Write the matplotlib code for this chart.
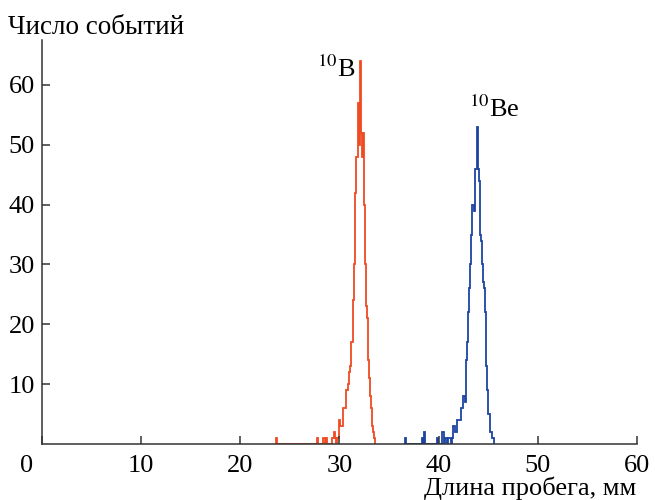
import numpy as np
import matplotlib
matplotlib.use('Agg')
import matplotlib.pyplot as plt
from matplotlib.transforms import ScaledTranslation

plt.rcParams['font.family'] = ['Liberation Serif', 'DejaVu Serif']
plt.rcParams['mathtext.fontset'] = 'stix'

# histogram data, 0.1 mm bins
bin_w = 0.1
b10_start = 23.5
b10_counts = [
    0, 1, 0, 0, 0, 0, 0, 0, 0, 0,
    0, 0, 0, 0, 0, 0, 0, 0, 0, 0,
    0, 0, 0, 0, 0, 0, 0, 0, 0, 0,
    0, 0, 0, 0, 0, 0, 0, 0, 0, 0,
    0, 0, 1, 0, 0, 0, 0, 0, 1, 1,
    0, 1, 0, 0, 0, 0, 0, 1, 1, 1,
    2, 1, 0, 1, 1, 4, 3, 3, 3, 6,
    6, 6, 9, 9, 10, 12, 13, 17, 17, 24,
    30, 42, 48, 48, 57, 50, 64, 52, 48, 52,
    40, 30, 23, 21, 14, 11, 8, 6, 3, 2,
    1,
]
be10_start = 36.5
be10_counts = [
    0, 1, 0, 0, 0, 0, 0, 0, 0, 0,
    0, 0, 0, 0, 0, 0, 0, 0, 1, 0,
    2, 0, 0, 0, 0, 0, 0, 0, 0, 0,
    0, 0, 0, 1, 0, 0, 0, 0, 2, 2,
    0, 1, 1, 0, 1, 1, 1, 0, 1, 3,
    3, 3, 2, 2, 4, 4, 4, 4, 6, 6,
    8, 8, 7, 14, 17, 22, 26, 30, 35, 40,
    40, 39, 46, 46, 53, 46, 44, 35, 34, 30,
    27, 26, 22, 13, 9, 5, 5, 2, 2, 1,
    1,
]
xticks = [0, 10, 20, 30, 40, 50, 60]
yticks = [10, 20, 30, 40, 50, 60]

red = '#f04b23'
blue = '#1d44a0'
fs = 19


def edges(start, n):
    return np.round(start + bin_w * np.arange(n + 1), 2)


fig = plt.figure(figsize=(6.55, 5.0), dpi=100)
ax = fig.add_axes([0.064, 0.112, 0.9085, 0.808])

ax.stairs(b10_counts, edges(b10_start, len(b10_counts)), color=red, lw=1.3)
ax.stairs(be10_counts, edges(be10_start, len(be10_counts)), color=blue, lw=1.3)

ax.set_xlim(0, 60)
ax.set_ylim(0, 67.5)
ax.spines['top'].set_visible(False)
ax.spines['right'].set_visible(False)
for s in ('left', 'bottom'):
    ax.spines[s].set_linewidth(1.1)
    ax.spines[s].set_color('#333333')

ax.set_xticks(xticks)
ax.set_yticks(yticks)
ax.tick_params(direction='in', length=6, width=1.1, color='#333333',
               labelsize=fs, labelcolor='black')
ax.tick_params(axis='x', pad=8)
ax.tick_params(axis='y', pad=5)

# the corner "0" sits left of the origin
lab0 = ax.get_xticklabels()[0]
lab0.set_transform(lab0.get_transform() + ScaledTranslation(-0.15, 0, fig.dpi_scale_trans))

ax.text(27.7, 61.3, r'$^{10}$B', fontsize=fs, color='black')
ax.text(43.1, 54.7, r'$^{10}$Be', fontsize=fs, color='black')

fig.text(0.012, 0.944, 'Число событий', fontsize=fs + 0.5, ha='left', va='center')
fig.text(0.971, 0.024, 'Длина пробега, мм', fontsize=fs, ha='right', va='center')

fig.savefig('out.png', dpi=100)
